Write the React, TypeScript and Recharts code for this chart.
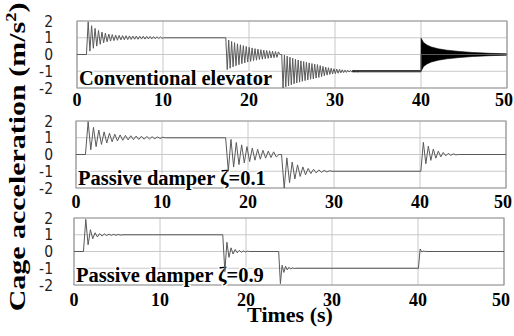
import { ComposedChart, Line, Area, XAxis, YAxis, CartesianGrid, ReferenceArea } from 'recharts';

const SERIF = "'Liberation Serif', 'Times New Roman', serif";
const NARROW = "'Liberation Sans Narrow', 'DejaVu Sans Condensed', sans-serif";

const X_TICKS = [0, 10, 20, 30, 40, 50];
const Y_TICKS = [-2, -1, 0, 1, 2];

// level after each step: up, back to zero, down, back to zero
const LEVELS = [1, 0, -1, 0];

// conventional elevator
const CONV_STEP_T = [1.1, 17.3, 23.8, 40.0];
const CONV_HALF = [0.2, 0.17, 0.16, 0.01];
const CONV_RISE = [1.95, 0.2, 1.72, 0.37, 1.56, 0.5, 1.44, 0.61, 1.34, 0.7, 1.27, 0.76, 1.22, 0.8, 1.19, 0.83, 1.16, 0.85, 1.14, 0.87, 1.13, 0.88, 1.12, 0.89, 1.11, 0.9, 1.1, 0.91, 1.1, 0.91, 1.09, 0.92, 1.09, 0.92, 1.08, 0.93, 1.08, 0.93, 1.07, 0.94, 1.06, 0.95, 1.05, 0.96];
const CONV_DROP1 = [-0.9, 0.86, -0.82, 0.78, -0.74, 0.71, -0.67, 0.64, -0.61, 0.58, -0.55, 0.53, -0.5, 0.48, -0.45, 0.43, -0.41, 0.39, -0.37, 0.35, -0.34, 0.32, -0.3, 0.29, -0.28, 0.26, -0.25, 0.24, -0.23, 0.22, -0.21, 0.2, -0.19, 0.18, -0.17, 0.16];
const CONV_DROP2 = [-2.0, -0.03, -1.93, -0.1, -1.87, -0.16, -1.81, -0.22, -1.75, -0.28, -1.7, -0.33, -1.65, -0.38, -1.6, -0.42, -1.56, -0.46, -1.52, -0.5, -1.48, -0.54, -1.45, -0.57, -1.41, -0.6, -1.37, -0.66, -1.32, -0.71, -1.27, -0.75, -1.23, -0.79, -1.19, -0.82, -1.16, -0.85, -1.14, -0.87, -1.12, -0.89, -1.1, -0.91, -1.08, -0.93, -1.07, -0.94, -1.05, -0.95, -1.04, -0.96, -1.03, -0.97, -1.03, -0.98, -1.02];
const CONV_RET: number[] = [];
// dense vibration drawn as an envelope
const CONV_BAND_T = [32, 40, 40.01, 40.3, 40.7, 41.2, 42, 43, 44.5, 46, 48, 50];
const CONV_BAND_LO = [-1.04, -1.04, -1.0, -0.72, -0.56, -0.45, -0.34, -0.26, -0.18, -0.12, -0.07, -0.04];
const CONV_BAND_HI = [-0.96, -0.96, 0.97, 0.72, 0.56, 0.45, 0.34, 0.26, 0.18, 0.12, 0.07, 0.04];

// passive damper zeta = 0.1
const D1_STEP_T = [1.1, 17.4, 23.9, 40.1];
const D1_HALF = [0.31, 0.31, 0.31, 0.29];
const D1_RISE = [1.96, 0.28, 1.62, 0.47, 1.46, 0.6, 1.35, 0.69, 1.27, 0.76, 1.21, 0.81, 1.17, 0.85, 1.14, 0.87, 1.12, 0.89, 1.1, 0.9, 1.09, 0.91, 1.08, 0.93, 1.06, 0.94, 1.05, 0.96, 1.03];
const D1_DROP1 = [-1.0, 0.9, -0.75, 0.72, -0.6, 0.58, -0.5, 0.47, -0.42, 0.38, -0.34, 0.31, -0.28, 0.25, -0.22, 0.2, -0.18, 0.16, -0.15];
const D1_DROP2 = [-2.0, -0.2, -1.68, -0.45, -1.46, -0.62, -1.31, -0.74, -1.21, -0.83, -1.14, -0.88, -1.1, -0.92, -1.06, -0.95, -1.04, -0.97];
const D1_RET = [0.73, -0.55, 0.5, -0.35, 0.33, -0.22, 0.2, -0.14, 0.12, -0.08, 0.07, -0.05, 0.04, -0.02];

// passive damper zeta = 0.9
const D9_STEP_T = [1.1, 17.3, 23.8, 40.05];
const D9_HALF = [0.27, 0.24, 0.2, 0.2];
const D9_RISE = [1.92, 0.4, 1.3, 0.76, 1.12, 0.87, 1.07, 0.92, 1.05, 0.95, 1.04, 0.96, 1.03, 0.97, 1.02, 0.98];
const D9_DROP1 = [-1.2, 0.55, -0.35, 0.22, -0.15, 0.12, -0.08, 0.07, -0.05, 0.04, -0.03, 0.02];
const D9_DROP2 = [-1.92, -0.82, -1.25, -0.88, -1.1, -0.94, -1.05, -0.97, -1.02];
const D9_RET = [0.15, -0.03, 0.03];

type Pt = { t: number; v: number };

function buildLine(stepT: number[], half: number[], peaks: number[][]): Pt[] {
    const pts: Pt[] = [{ t: 0, v: 0 }];
    stepT.forEach((t0, k) => {
        const prev = k === 0 ? 0 : LEVELS[k - 1];
        pts.push({ t: t0, v: prev });
        peaks[k].forEach((v, i) => pts.push({ t: t0 + (i + 1) * half[k], v }));
        pts.push({ t: t0 + (peaks[k].length + 1) * half[k], v: LEVELS[k] });
    });
    pts.push({ t: 50, v: LEVELS[LEVELS.length - 1] });
    return pts;
}

const convLine = buildLine(CONV_STEP_T, CONV_HALF, [CONV_RISE, CONV_DROP1, CONV_DROP2, CONV_RET]);
const d1Line = buildLine(D1_STEP_T, D1_HALF, [D1_RISE, D1_DROP1, D1_DROP2, D1_RET]);
const d9Line = buildLine(D9_STEP_T, D9_HALF, [D9_RISE, D9_DROP1, D9_DROP2, D9_RET]);
const convBand = CONV_BAND_T.map((t, i) => ({ t, lo: CONV_BAND_LO[i], hi: CONV_BAND_HI[i] }));

const PanelLabel = ({ viewBox, text }: { viewBox?: any; text: string }) => {
    if (!viewBox) return null;
    return (
        <text
            x={viewBox.x + 2}
            y={viewBox.y + viewBox.height - 3}
            fontFamily={SERIF}
            fontWeight={700}
            fontSize={20.5}
            fill="#000"
            stroke="#fff"
            strokeWidth={3}
            paintOrder="stroke"
        >
            {text}
        </text>
    );
};

const XTick = ({ x, y, payload, gap }: any) => (
    <text
        x={x + (payload.value === 50 ? -3 : 0)}
        y={y + gap}
        textAnchor="middle"
        fontFamily={SERIF}
        fontWeight={700}
        fontSize={18}
        fill="#000"
    >
        {payload.value}
    </text>
);

interface PanelProps {
    top: number;
    height: number;
    mt: number;
    left: number;
    xGap: number;
    yGap: number;
    label: string;
    data: Pt[];
    band?: { t: number; lo: number; hi: number }[];
}

function Panel({ top, height, mt, left, xGap, yGap, label, data, band }: PanelProps) {
    return (
        <div style={{ position: 'absolute', left: 0, top }}>
            <ComposedChart
                width={514}
                height={height}
                data={data}
                margin={{ top: mt, right: 514 - left - 430, bottom: 0, left: 0 }}
            >
                <CartesianGrid stroke="#c8c8c8" />
                <XAxis
                    dataKey="t"
                    type="number"
                    domain={[0, 50]}
                    ticks={X_TICKS}
                    interval={0}
                    height={30}
                    axisLine={false}
                    tickLine={false}
                    tickSize={0}
                    tickMargin={0}
                    tick={(p: any) => <XTick {...p} gap={xGap} />}
                />
                <YAxis
                    type="number"
                    domain={[-2, 2]}
                    ticks={Y_TICKS}
                    interval={0}
                    width={left}
                    axisLine={false}
                    tickLine={false}
                    tickSize={0}
                    tickMargin={yGap}
                    tick={{ fill: '#222', fontSize: 15.5, fontFamily: NARROW }}
                />
                {band && (
                    <Area
                        data={band}
                        dataKey={(d: any) => [d.lo, d.hi]}
                        type="linear"
                        stroke="#000"
                        strokeWidth={0.6}
                        fill="#000"
                        fillOpacity={1}
                        dot={false}
                        activeDot={false}
                        isAnimationActive={false}
                    />
                )}
                <Line
                    dataKey="v"
                    type="linear"
                    stroke="#5a5a5a"
                    strokeWidth={1}
                    dot={false}
                    activeDot={false}
                    isAnimationActive={false}
                />
                <ReferenceArea
                    x1={0}
                    x2={50}
                    y1={-2}
                    y2={2}
                    fill="none"
                    stroke="#9a9a9a"
                    strokeWidth={1.2}
                    label={(p: any) => <PanelLabel viewBox={p.viewBox} text={label} />}
                />
            </ComposedChart>
        </div>
    );
}

export default function App() {
    return (
        <div style={{ position: 'absolute', left: 0, top: 0, width: 514, height: 336, background: '#fff' }}>
            <Panel top={0} height={118} mt={21} left={77} xGap={18} yGap={24} label="Conventional elevator" data={convLine} band={convBand} />
            <Panel top={110} height={108} mt={11} left={76} xGap={19.5} yGap={23} label="Passive damper ζ=0.1" data={d1Line} />
            <Panel top={210} height={105} mt={8} left={74} xGap={21} yGap={21} label="Passive damper ζ=0.9" data={d9Line} />
            <svg width={514} height={336} style={{ position: 'absolute', left: 0, top: 0, pointerEvents: 'none' }}>
                <text
                    transform="translate(25,157) rotate(-90) scale(1.32,1)"
                    textAnchor="middle"
                    fontFamily={SERIF}
                    fontWeight={700}
                    fontSize={22.7}
                    fill="#000"
                >
                    Cage acceleration (m/s<tspan fontSize={14} dy={-9}>2</tspan>
                    <tspan dy={9}>)</tspan>
                </text>
                <text x={290} y={322} textAnchor="middle" fontFamily={SERIF} fontWeight={700} fontSize={22} fill="#000">
                    Times (s)
                </text>
            </svg>
        </div>
    );
}
